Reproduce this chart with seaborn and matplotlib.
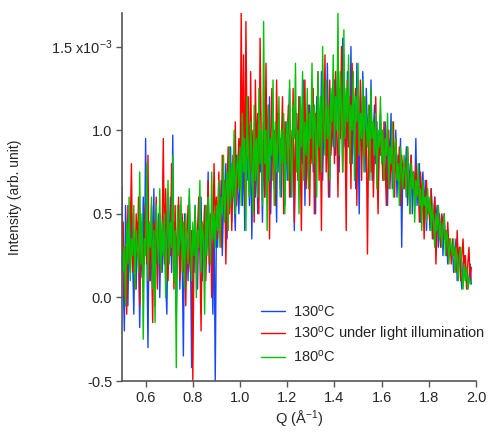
import seaborn as sns
import matplotlib.pyplot as plt
import pandas as pd
import numpy as np

# intensities in units of 1e-3, Q from 0.50 to 1.98 in steps of 0.005
q = np.round(np.linspace(0.5, 1.98, 297), 3)

i_130 = [
    .66, .10, -.20, .55, .30, -.05, .40, .15, .50, .22, -.10, .35, .05, .45, .28, -.18, .38, .12, .60, .20,
    .95, .30, -.30, .45, .10, .55, .25, .65, -.05, .35, .20, .50, .00, .40, .15, .30, .55, .10, -.10, .45,
    .35, .60, .15, .97, .20, .45, -.10, .30, .55, .05, .40, .25, -.35, .50, .20, .35, .10, .60, .30, -.42,
    .40, .15, .55, .25, .05, .45, .30, .60, .10, .38, .20, .55, .30, .75, .15, .45, .25, -.10, .50, -.50,
    .45, .30, .65, .40, .70, .25, .55, .50, .80, .35, .65, .55, .90, .45, .70, .60, .40, .85, .65, .50,
    .75, 1.05, .55, .90, .40, 1.40, .70, .85, .55, .95, .35, .80, 1.00, .60, .90, .50, 1.10, .75, .85, .45,
    .95, .60, 1.05, .80, .70, 1.20, .50, .90, 1.00, .65, .85, .45, 1.10, .75, .95, .60, 1.00, .80, .55, 1.05,
    .70, .95, 1.25, .60, .85, 1.00, .40, .90, 1.10, .75, 1.20, .65, .95, .80, 1.30, .55, 1.00, .85, .70, 1.15,
    .90, 1.25, .75, 1.05, .50, 1.20, .95, 1.10, .80, 1.35, .70, 1.00, 1.15, .85, 1.40, .95, .60, 1.20, 1.05, .90,
    1.30, .85, 1.10, 1.45, .75, 1.20, 1.00, 1.55, .90, 1.15, .70, 1.35, 1.05, .95, 1.50, .80, 1.25, 1.10, .65, 1.40,
    1.00, .50, 1.20, .90, 1.35, 1.05, .75, 1.25, .95, 1.10, .85, 1.30, .70, 1.00, 1.15, .80, 1.05, .60, .95, 1.10,
    .85, 1.00, .70, 1.05, .90, .55, .95, .80, 1.10, .65, .90, .75, 1.00, .60, .85, .70, .95, .30, .80, .65,
    .75, .90, .55, .80, .65, .85, .50, .75, .60, .95, .55, .70, .80, .45, .65, .75, .50, .70, .40, .60,
    .55, .40, .65, .50, .35, .60, .45, .55, .30, .50, .40, .45, .25, .50, .35, .40, .20, .35, .30, .25,
    .30, .15, .25, .35, .10, .20, .30, .15, .05, .20, .25, .10, .15, .05, .12, .20, .08,
]

i_130_light = [
    .25, .45, .00, .30, -.10, .55, .20, .40, .80, .15, .35, .05, .50, .25, .60, -.05, .30, .45, .10, .35,
    .55, .20, .85, .10, .40, .25, -.15, .45, .30, .60, .05, .35, .50, .15, .40, .95, .20, .65, .30, .10,
    .45, .25, .80, .35, .05, .55, .20, .40, .60, .10, .30, .50, .15, .45, -.05, .35, .55, .25, .15, .40,
    -.50, .30, .50, .15, .40, .60, .25, -.20, .45, .35, .55, .10, .40, .70, .20, .50, .00, .35, .80, .45,
    .60, .35, .75, .50, .30, .85, .55, .70, .20, .65, .90, .50, .75, .40, .85, .60, 1.05, .55, .75, .95,
    .65, 1.70, .80, 1.45, .55, 1.65, .90, 1.20, .60, 1.35, .75, 1.00, .45, 1.30, .85, 1.10, .50, 1.55, .95, .70,
    1.05, .60, 1.40, .80, 1.15, .35, .95, 1.25, .70, 1.00, .55, 1.30, .85, 1.10, .65, .90, 1.20, .50, 1.05, .80,
    .95, 1.15, .60, 1.00, .75, 1.25, .45, .90, 1.10, .70, 1.20, .85, .40, 1.05, .95, 1.30, .65, .85, 1.15, .55,
    1.00, .80, 1.25, .50, 1.10, .90, 1.35, .70, 1.05, .40, 1.20, .95, 1.45, .75, 1.10, .60, 1.30, .85, 1.00, 1.20,
    .80, 1.35, 1.05, .60, 1.25, .95, 1.50, .75, 1.15, 1.00, .40, 1.30, .90, 1.20, .65, 1.40, 1.05, .85, 1.25, .55,
    1.10, .90, 1.30, .70, 1.05, 1.20, .85, 1.00, .26, .95, 1.15, .75, 1.05, .60, .90, 1.20, .80, .50, 1.00, .85,
    .95, .70, 1.05, .80, .55, .90, 1.00, .65, .85, .75, 1.05, .60, .95, .80, .70, .90, .55, .85, .75, .65,
    .80, .60, .90, .70, .50, .85, .65, .75, .55, .80, .60, .70, .45, .75, .55, .65, .35, .60, .70, .50,
    .55, .45, .65, .35, .50, .60, .20, .45, .55, .40, .30, .50, .45, .35, .40, .25, .45, .30, .35, .20,
    .35, .25, .30, .15, .40, .20, .30, .10, .25, .35, .15, .25, .05, .20, .30, .10, .18,
]

i_180 = [
    .40, .15, .30, -.05, .45, .20, .60, .10, .35, .25, .55, .05, .40, .30, .15, .75, .20, .50, -.25, .35,
    .25, .80, .10, .45, .30, .60, .05, .40, -.15, .55, .35, .20, .65, .15, .45, .25, .50, .00, .35, .70,
    .20, .45, .30, .85, .10, .40, -.42, .55, .25, .35, .60, .15, .45, .05, .50, .30, .20, .65, .35, .10,
    .45, .25, .55, .00, .40, .30, .70, .15, .45, .35, -.10, .55, .25, .60, .40, .20, .75, .35, .50, .30,
    .55, .40, .70, .30, .60, .50, .85, .45, .65, .75, .40, .90, .55, .80, .60, 1.00, .50, .75, .85, .65,
    .90, .55, 1.10, .75, .95, .40, 1.20, .80, .60, 1.05, .85, .50, 1.15, .70, .95, .60, 1.25, .80, 1.00, .55,
    1.65, .80, 1.00, .40, 1.15, .70, .95, .85, 1.30, .55, 1.05, .75, .90, 1.20, .60, 1.00, .80, 1.10, .50, .95,
    1.05, .70, 1.30, .85, .60, 1.15, .95, 1.40, .75, 1.00, .50, 1.20, .90, 1.35, .70, 1.05, .85, 1.25, .65, 1.10,
    .95, 1.40, .80, 1.15, 1.00, .60, 1.35, .90, 1.20, .75, 1.50, 1.05, .85, 1.30, .95, 1.15, .70, 1.25, 1.05, 1.45,
    .90, 1.20, 1.00, 1.70, .85, 1.35, 1.10, .75, 1.60, .95, 1.25, 1.05, 1.45, .80, 1.15, 1.00, 1.35, .70, 1.20, 1.05,
    1.40, .85, 1.10, .95, 1.30, .75, 1.20, 1.05, .90, 1.15, .70, 1.25, .95, 1.05, .85, 1.10, .65, 1.00, .90, 1.20,
    .80, 1.00, .70, .95, .85, 1.10, .65, .90, .80, 1.05, .60, .85, .95, .70, .80, .55, .90, .75, .65, .85,
    .75, .60, .90, .70, .50, .80, .65, .75, .45, .70, .60, .80, .55, .65, .40, .70, .55, .60, .45, .65,
    .50, .60, .40, .55, .45, .30, .50, .40, .55, .35, .45, .30, .40, .50, .25, .40, .35, .20, .35, .30,
    .25, .35, .15, .30, .20, .10, .25, .30, .15, .05, .20, .10, .18, .05, .12, .08, .10,
]

labels = [r"130$^{o}$C", r"130$^{o}$C under light illumination", r"180$^{o}$C"]
colors = ["#1446ff", "#ff0000", "#00c400"]

df = pd.concat([
    pd.DataFrame({"Q": q, "I": np.array(v) * 1e-3, "sample": lab})
    for v, lab in zip([i_130, i_130_light, i_180], labels)
])

sns.set_theme(style="ticks")
plt.rcParams["font.family"] = ["Liberation Sans", "DejaVu Sans"]
plt.rcParams["mathtext.default"] = "regular"

fs = 10.5
fig = plt.figure(figsize=(4.89, 4.37), dpi=100)
ax = fig.add_axes([0.2495, 0.128, 0.724, 0.842])
sns.lineplot(data=df, x="Q", y="I", hue="sample", hue_order=labels,
             palette=colors, estimator=None, sort=False, lw=1.0, ax=ax)

ax.set_xlim(0.5, 2.0)
ax.set_ylim(-0.5e-3, 1.7e-3)
ax.set_xticks([0.6, 0.8, 1.0, 1.2, 1.4, 1.6, 1.8, 2.0])
ax.set_xticklabels(["0.6", "0.8", "1.0", "1.2", "1.4", "1.6", "1.8", "2.0"])
ax.set_yticks([-0.5e-3, 0.0, 0.5e-3, 1.0e-3, 1.5e-3])
ax.set_yticklabels(["-0.5", "0.0", "0.5", "1.0", r"1.5 x10$^{-3}$"])
ax.tick_params(labelsize=fs, length=4, width=1, color="#555555", pad=3)
for s in ["left", "bottom"]:
    ax.spines[s].set_color("#555555")
    ax.spines[s].set_linewidth(1.2)
sns.despine(ax=ax)

ax.set_xlabel(r"Q ($\AA^{-1}$)", fontsize=fs, labelpad=3)
ax.set_ylabel("Intensity (arb. unit)", fontsize=10, labelpad=21)

ax.legend(loc="upper left", bbox_to_anchor=(0.518, 0.322), bbox_transform=fig.transFigure,
          frameon=False, fontsize=fs, handlelength=1.7, handletextpad=0.55,
          labelspacing=0.35, borderpad=0)

fig.savefig("out.png", dpi=100)
